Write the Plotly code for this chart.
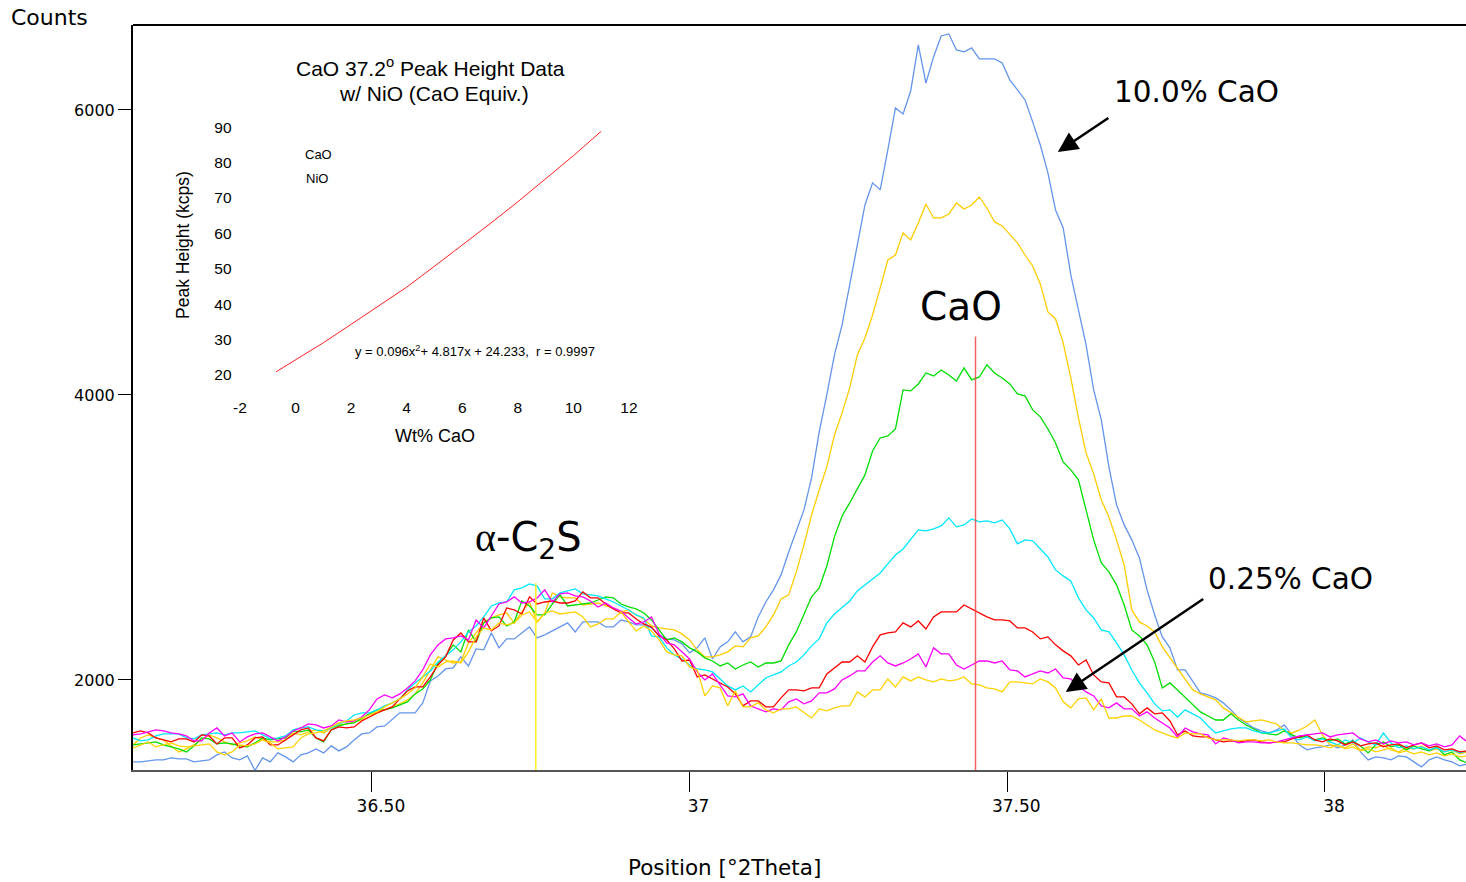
"""CaO peak region of XRD scans with peak-height calibration inset."""

import plotly.graph_objects as go

# scan grid (°2Theta)
SCAN_START = 36.124
SCAN_STEP = 0.012

# counts per step, one list per sample trace
counts_blue = [
    1425, 1425, 1432, 1439, 1439, 1453, 1446, 1446, 1425, 1432, 1439, 1474, 1495, 1453, 1439, 1467,
    1365, 1453, 1425, 1488, 1460, 1425, 1474, 1488, 1516, 1488, 1537, 1502, 1530, 1579, 1621, 1628,
    1670, 1677, 1726, 1769, 1769, 1769, 1839, 1993, 2028, 2077, 2084, 2162, 2098, 2218, 2211, 2330,
    2225, 2288, 2288, 2330, 2372, 2295, 2316, 2344, 2372, 2400, 2337, 2407, 2407, 2407, 2372, 2372,
    2421, 2407, 2386, 2386, 2365, 2316, 2288, 2281, 2253, 2190, 2225, 2295, 2147, 2232, 2267, 2337,
    2267, 2302, 2442, 2547, 2632, 2737, 2898, 3053, 3193, 3418, 3740, 4000, 4281, 4491, 4772, 5053,
    5333, 5488, 5439, 5719, 6014, 5972, 6133, 6456, 6189, 6372, 6519, 6533, 6421, 6407, 6435, 6358,
    6358, 6358, 6330, 6211, 6140, 6070, 5916, 5754, 5558, 5298, 5172, 4842, 4597, 4351, 4035, 3825,
    3495, 3228, 3088, 2983, 2856, 2632, 2456, 2302, 2225, 2070, 2070, 1986, 1909, 1895, 1874, 1839,
    1790, 1733, 1698, 1663, 1642, 1628, 1649, 1684, 1614, 1544, 1509, 1523, 1530, 1544, 1523, 1544,
    1579, 1495, 1439, 1460, 1453, 1439, 1467, 1460, 1425, 1390, 1439, 1460, 1439, 1425, 1397, 1411,
]
counts_gold = [
    1544, 1593, 1614, 1593, 1579, 1537, 1495, 1516, 1544, 1579, 1614, 1593, 1565, 1544, 1558, 1572,
    1600, 1579, 1565, 1565, 1579, 1628, 1614, 1635, 1649, 1628, 1663, 1684, 1691, 1705, 1719, 1740,
    1769, 1790, 1811, 1832, 1860, 1902, 1979, 2070, 2162, 2140, 2119, 2126, 2260, 2330, 2400, 2435,
    2456, 2470, 2400, 2477, 2547, 2407, 2470, 2611, 2583, 2576, 2576, 2526, 2533, 2540, 2519, 2505,
    2477, 2491, 2456, 2428, 2379, 2365, 2358, 2351, 2323, 2281, 2211, 2162, 2162, 2176, 2197, 2239,
    2232, 2295, 2309, 2372, 2456, 2569, 2597, 2758, 2948, 3158, 3333, 3495, 3719, 3874, 4049, 4281,
    4400, 4561, 4751, 4947, 4982, 5137, 5088, 5207, 5340, 5242, 5242, 5270, 5347, 5305, 5333, 5389,
    5312, 5214, 5186, 5130, 5067, 4982, 4905, 4779, 4583, 4533, 4365, 4119, 3839, 3593, 3446, 3263,
    3144, 2983, 2807, 2491, 2407, 2379, 2337, 2232, 2155, 2084, 2000, 1930, 1902, 1881, 1860, 1804,
    1769, 1740, 1705, 1712, 1719, 1705, 1691, 1642, 1628, 1649, 1677, 1719, 1614, 1544, 1537, 1523,
    1551, 1509, 1530, 1523, 1544, 1509, 1495, 1523, 1516, 1537, 1502, 1516, 1495, 1509, 1481, 1495,
]
counts_green = [
    1544, 1551, 1558, 1565, 1544, 1530, 1516, 1495, 1537, 1593, 1586, 1551, 1558, 1551, 1537, 1530,
    1558, 1593, 1579, 1586, 1593, 1642, 1635, 1649, 1593, 1565, 1649, 1677, 1691, 1698, 1733, 1762,
    1790, 1790, 1804, 1825, 1846, 1902, 1937, 2000, 2119, 2169, 2246, 2197, 2351, 2267, 2400, 2435,
    2442, 2379, 2407, 2554, 2519, 2456, 2456, 2533, 2597, 2519, 2526, 2533, 2540, 2561, 2583, 2576,
    2533, 2512, 2498, 2470, 2421, 2351, 2281, 2295, 2267, 2225, 2197, 2155, 2133, 2098, 2119, 2077,
    2105, 2126, 2091, 2119, 2119, 2133, 2246, 2337, 2456, 2583, 2646, 2800, 3004, 3151, 3242, 3340,
    3439, 3607, 3698, 3712, 3761, 4035, 4028, 4077, 4154, 4133, 4175, 4140, 4098, 4190, 4105, 4126,
    4211, 4154, 4119, 4077, 4007, 3993, 3895, 3846, 3761, 3663, 3530, 3474, 3404, 3193, 2983, 2821,
    2758, 2667, 2526, 2351, 2309, 2246, 2126, 1944, 1979, 1930, 1881, 1825, 1776, 1747, 1719, 1719,
    1762, 1719, 1684, 1656, 1628, 1621, 1614, 1642, 1614, 1593, 1607, 1579, 1593, 1572, 1586, 1551,
    1572, 1537, 1488, 1544, 1565, 1530, 1544, 1509, 1537, 1516, 1502, 1530, 1474, 1495, 1439, 1418,
]
counts_cyan = [
    1593, 1572, 1579, 1607, 1621, 1621, 1621, 1593, 1586, 1614, 1621, 1628, 1614, 1628, 1628, 1635,
    1642, 1614, 1586, 1593, 1607, 1649, 1663, 1670, 1649, 1642, 1663, 1691, 1712, 1754, 1769, 1769,
    1790, 1818, 1839, 1867, 1930, 1979, 2021, 2063, 2126, 2169, 2211, 2267, 2337, 2379, 2442, 2519,
    2540, 2547, 2632, 2646, 2674, 2660, 2569, 2569, 2611, 2625, 2639, 2604, 2597, 2590, 2569, 2547,
    2519, 2491, 2456, 2435, 2309, 2302, 2225, 2176, 2147, 2105, 2077, 2070, 2056, 2007, 1958, 1930,
    1958, 1916, 1965, 2014, 2035, 2056, 2098, 2126, 2176, 2239, 2288, 2400, 2463, 2512, 2554, 2625,
    2667, 2709, 2751, 2814, 2877, 2919, 2983, 3053, 3046, 3060, 3081, 3137, 3074, 3088, 3130, 3109,
    3116, 3102, 3123, 3060, 2955, 2983, 2976, 2919, 2863, 2772, 2730, 2695, 2576, 2491, 2435, 2351,
    2337, 2260, 2176, 2070, 1979, 1909, 1832, 1783, 1790, 1740, 1790, 1762, 1733, 1677, 1628, 1642,
    1656, 1663, 1663, 1642, 1628, 1628, 1642, 1656, 1593, 1579, 1600, 1572, 1586, 1565, 1544, 1579,
    1558, 1593, 1565, 1544, 1628, 1558, 1523, 1537, 1516, 1530, 1509, 1523, 1495, 1509, 1488, 1502,
]
counts_red = [
    1628, 1642, 1628, 1593, 1579, 1565, 1586, 1586, 1565, 1614, 1607, 1551, 1593, 1593, 1523, 1544,
    1593, 1600, 1544, 1544, 1579, 1614, 1649, 1663, 1593, 1572, 1649, 1670, 1663, 1670, 1712, 1740,
    1769, 1790, 1811, 1867, 1923, 1951, 1951, 2021, 2105, 2162, 2281, 2330, 2267, 2267, 2435, 2344,
    2379, 2505, 2491, 2463, 2583, 2533, 2547, 2554, 2540, 2540, 2554, 2618, 2576, 2576, 2533, 2498,
    2470, 2470, 2428, 2393, 2372, 2309, 2281, 2218, 2133, 2140, 2021, 2035, 2007, 1979, 1951, 1902,
    1818, 1853, 1853, 1811, 1811, 1874, 1930, 1930, 1923, 1944, 1944, 2042, 2084, 2126, 2126, 2169,
    2126, 2232, 2316, 2330, 2337, 2400, 2372, 2414, 2358, 2442, 2477, 2477, 2477, 2526, 2498, 2470,
    2442, 2421, 2421, 2414, 2365, 2365, 2337, 2288, 2302, 2246, 2204, 2169, 2105, 2140, 2035, 1986,
    1979, 1881, 1881, 1832, 1762, 1804, 1762, 1769, 1712, 1614, 1642, 1607, 1600, 1600, 1579, 1565,
    1572, 1565, 1572, 1579, 1565, 1558, 1565, 1565, 1586, 1600, 1614, 1579, 1565, 1586, 1572, 1544,
    1565, 1537, 1551, 1558, 1530, 1544, 1551, 1523, 1544, 1558, 1523, 1537, 1509, 1516, 1495, 1502,
]
counts_magenta = [
    1614, 1621, 1635, 1649, 1642, 1628, 1621, 1607, 1572, 1572, 1628, 1663, 1607, 1628, 1565, 1600,
    1621, 1628, 1600, 1572, 1600, 1642, 1663, 1691, 1684, 1663, 1677, 1719, 1705, 1712, 1740, 1790,
    1867, 1895, 1874, 1902, 1944, 1993, 2070, 2176, 2246, 2288, 2295, 2309, 2281, 2421, 2365, 2449,
    2533, 2547, 2583, 2540, 2547, 2576, 2632, 2547, 2604, 2611, 2590, 2583, 2554, 2512, 2540, 2505,
    2484, 2435, 2393, 2407, 2442, 2323, 2260, 2246, 2197, 2147, 2056, 2000, 2042, 1965, 1888, 1881,
    1902, 1818, 1797, 1776, 1797, 1790, 1846, 1867, 1832, 1853, 1909, 1909, 1937, 2000, 2028, 2063,
    2063, 2126, 2169, 2119, 2098, 2119, 2147, 2183, 2091, 2225, 2183, 2183, 2105, 2077, 2105, 2133,
    2133, 2119, 2133, 2070, 2063, 2021, 2042, 2063, 2049, 2077, 2014, 2007, 1958, 1916, 1888, 1818,
    1804, 1839, 1797, 1797, 1747, 1776, 1733, 1698, 1663, 1600, 1663, 1635, 1621, 1614, 1551, 1593,
    1579, 1558, 1565, 1565, 1558, 1558, 1565, 1579, 1593, 1607, 1614, 1621, 1628, 1600, 1614, 1621,
    1628, 1586, 1565, 1579, 1551, 1572, 1558, 1565, 1544, 1558, 1537, 1551, 1530, 1544, 1607, 1565,
]
counts_yellow = [
    1523, 1544, 1565, 1530, 1544, 1558, 1537, 1530, 1537, 1544, 1551, 1495, 1474, 1495, 1544, 1537,
    1551, 1579, 1558, 1516, 1523, 1530, 1593, 1621, 1628, 1642, 1670, 1698, 1712, 1719, 1733, 1754,
    1776, 1811, 1839, 1867, 1902, 1944, 2021, 2112, 2091, 2126, 2133, 2119, 2197, 2302, 2365, 2351,
    2400, 2386, 2400, 2456, 2477, 2407, 2470, 2484, 2463, 2470, 2477, 2442, 2372, 2393, 2428, 2428,
    2477, 2407, 2344, 2379, 2344, 2281, 2197, 2176, 2169, 2091, 2070, 1888, 1958, 1944, 1818, 1923,
    1811, 1811, 1839, 1790, 1769, 1797, 1797, 1811, 1769, 1733, 1797, 1783, 1804, 1818, 1818, 1916,
    1881, 1930, 1930, 2007, 1951, 2021, 1993, 2021, 2000, 1986, 2007, 1993, 2000, 2021, 1972, 1965,
    1944, 1937, 1916, 1986, 1986, 1979, 1972, 2007, 1986, 1944, 1846, 1804, 1867, 1874, 1790, 1867,
    1733, 1733, 1747, 1747, 1719, 1684, 1649, 1628, 1607, 1593, 1628, 1621, 1621, 1593, 1579, 1579,
    1579, 1572, 1579, 1579, 1572, 1579, 1565, 1558, 1558, 1551, 1544, 1544, 1537, 1523, 1544, 1516,
    1530, 1502, 1516, 1495, 1509, 1523, 1488, 1502, 1481, 1495, 1474, 1488, 1467, 1481, 1460, 1467,
]

# reference peak markers: position (°2Theta) and marker top (counts)
cao_marker = [37.45, 4410]
c2s_marker = [36.758, 2680]

# main axis ticks
x_tickvals = [36.5, 37, 37.5, 38]
x_ticktext = ["36.50", "37", "37.50", "38"]
y_tickvals = [2000, 4000, 6000]

# inset: calibration curve (Wt% CaO vs peak height, kcps)
inset_wt = [-0.7, 0, 1, 2, 3, 4, 5, 6, 7, 8, 9, 10, 11]
inset_kcps = [20.9, 24.2, 29.1, 34.3, 39.5, 44.8, 50.7, 56.6, 62.7, 68.9, 75.3, 81.9, 88.8]
inset_xticks = [-2, 0, 2, 4, 6, 8, 10, 12]
inset_xticktext = ["-2", "0", "2", "4", "6", "8", "10", "12"]
inset_yticks = [20, 30, 40, 50, 60, 70, 80, 90]

MAIN_FONT = "DejaVu Sans, sans-serif"
INSET_FONT = "Liberation Sans, Arial, sans-serif"

fig = go.Figure()

series = [
    (counts_blue, "#6495ED"),
    (counts_gold, "#FFCC00"),
    (counts_green, "#00DD00"),
    (counts_cyan, "#00E8FF"),
    (counts_red, "#FF0000"),
    (counts_magenta, "#FF00FF"),
    (counts_yellow, "#FFD200"),
]
for counts, colour in series:
    fig.add_trace(
        go.Scatter(
            y=counts,
            x0=SCAN_START,
            dx=SCAN_STEP,
            mode="lines",
            line={"color": colour, "width": 1.3},
            xaxis="x",
            yaxis="y",
            showlegend=False,
            hoverinfo="skip",
        )
    )

# peak position markers
fig.add_trace(
    go.Scatter(
        x=[cao_marker[0], cao_marker[0]],
        y=[1368, cao_marker[1]],
        mode="lines",
        line={"color": "rgba(240,70,70,0.85)", "width": 1.5},
        showlegend=False,
        hoverinfo="skip",
    )
)
fig.add_trace(
    go.Scatter(
        x=[c2s_marker[0], c2s_marker[0]],
        y=[1368, c2s_marker[1]],
        mode="lines",
        line={"color": "#FFEE22", "width": 1.5},
        showlegend=False,
        hoverinfo="skip",
    )
)

# inset calibration curve
fig.add_trace(
    go.Scatter(
        x=inset_wt,
        y=inset_kcps,
        mode="lines",
        line={"color": "#FF2020", "width": 1},
        xaxis="x2",
        yaxis="y2",
        showlegend=False,
        hoverinfo="skip",
    )
)

fig.update_layout(
    width=1466,
    height=882,
    autosize=False,
    margin={"l": 133, "r": 0, "t": 25, "b": 112},
    paper_bgcolor="white",
    plot_bgcolor="white",
    font={"family": MAIN_FONT, "color": "black"},
    xaxis={
        "range": [36.124, 38.222],
        "tickvals": x_tickvals,
        "ticktext": x_ticktext,
        "ticks": "outside",
        "ticklen": 20,
        "tickcolor": "black",
        "tickwidth": 1,
        "tickfont": {"size": 17, "family": MAIN_FONT},
        "ticklabelshift": 9,
        "showline": True,
        "linecolor": "#555555",
        "linewidth": 2,
        "showgrid": False,
        "zeroline": False,
    },
    yaxis={
        "range": [1368, 6596],
        "tickvals": y_tickvals,
        "ticks": "outside",
        "ticklen": 13,
        "tickcolor": "black",
        "tickwidth": 1,
        "ticklabelstandoff": 0,
        "tickfont": {"size": 16, "family": MAIN_FONT},
        "showline": True,
        "linecolor": "black",
        "linewidth": 2,
        "showgrid": False,
        "zeroline": False,
    },
    xaxis2={
        "domain": [0.0792, 0.3783],
        "anchor": "y2",
        "range": [-2.05, 12.3],
        "tickvals": inset_xticks,
        "ticktext": inset_xticktext,
        "ticks": "",
        "showline": False,
        "showgrid": False,
        "zeroline": False,
        "tickfont": {"size": 15.5, "family": INSET_FONT},
    },
    yaxis2={
        "domain": [0.502, 0.8725],
        "anchor": "x2",
        "range": [14.07, 92],
        "tickvals": inset_yticks,
        "ticks": "",
        "ticklabelstandoff": 6,
        "showline": False,
        "showgrid": False,
        "zeroline": False,
        "tickfont": {"size": 15.5, "family": INSET_FONT},
    },
)

# top frame line
fig.add_shape(
    type="line", xref="paper", yref="paper", x0=0, x1=1, y0=1, y1=1,
    line={"color": "black", "width": 2},
)

annotations = [
    # axis titles
    {"text": "Counts", "x": -0.0623, "y": 1.0094, "size": 22, "font": MAIN_FONT},
    {"text": "Position [°2Theta]", "x": 0.4441, "y": -0.1315, "size": 21.5, "font": MAIN_FONT},
    # inset texts
    {"text": "CaO 37.2<sup>o</sup> Peak Height Data", "x": 0.2235, "y": 0.9436, "size": 21, "font": INSET_FONT},
    {"text": "w/ NiO (CaO Equiv.)", "x": 0.2258, "y": 0.9087, "size": 21, "font": INSET_FONT},
    {"text": "CaO", "x": 0.1388, "y": 0.8268, "size": 13, "font": INSET_FONT},
    {"text": "NiO", "x": 0.1381, "y": 0.7933, "size": 13, "font": INSET_FONT},
    {"text": "y = 0.096x<sup>2</sup>+ 4.817x + 24.233,  r = 0.9997", "x": 0.2566, "y": 0.5624,
     "size": 13, "font": INSET_FONT},
    {"text": "Wt% CaO", "x": 0.2266, "y": 0.4483, "size": 18, "font": INSET_FONT},
]
for a in annotations:
    fig.add_annotation(
        text=a["text"], x=a["x"], y=a["y"], xref="paper", yref="paper",
        xanchor="center", yanchor="middle", showarrow=False,
        font={"size": a["size"], "family": a["font"], "color": "black"},
    )
fig.add_annotation(
    text="Peak Height (kcps)", x=0.0375, y=0.7047, xref="paper", yref="paper",
    textangle=-90, showarrow=False, xanchor="center", yanchor="middle",
    font={"size": 17.5, "family": INSET_FONT, "color": "black"},
)

# peak labels
labels = [
    ("10.0% CaO", 37.798, 6126, 29.5),
    ("0.25% CaO", 37.945, 2709, 29.5),
    ("CaO", 37.427, 4618, 39),
    ("<span style='font-family:Liberation Serif'>α</span>-C<sub>2</sub>S", 36.746, 2982, 40),
]
for text, lx, ly, size in labels:
    fig.add_annotation(
        text=text, x=lx, y=ly, xref="x", yref="y", showarrow=False,
        xanchor="center", yanchor="middle",
        font={"size": size, "family": MAIN_FONT, "color": "black"},
    )

# arrows to the 10.0% and 0.25% traces
for hx, hy, ax, ay in [(37.5796, 5705, 52, -35), (37.592, 1916, 139, -94)]:
    fig.add_annotation(
        text="", x=hx, y=hy, xref="x", yref="y", ax=ax, ay=ay,
        showarrow=True, arrowhead=2, arrowsize=1.6, arrowwidth=2.5, arrowcolor="black",
    )

fig.write_html(
    "out.html",
    config={"displayModeBar": False},
    post_script="document.body.style.margin = '0'; document.body.style.overflow = 'hidden';",
)
